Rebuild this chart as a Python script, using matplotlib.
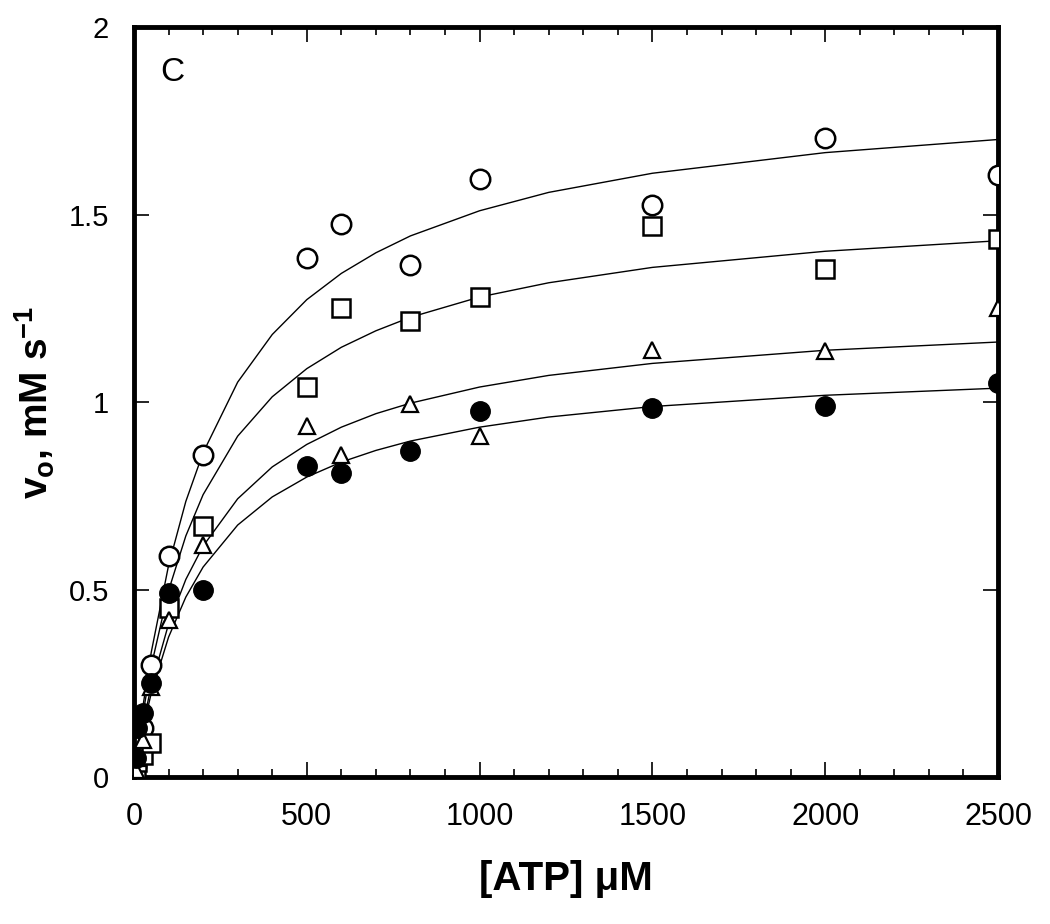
import numpy as np
import matplotlib
matplotlib.use("Agg")
import matplotlib.pyplot as plt
from matplotlib.ticker import MultipleLocator

# ── Data ───────────────────────────────────────────────────
atp = [5, 10, 25, 50, 100, 200, 500, 600, 800, 1000, 1500, 2000, 2500]

v_circle = [0.03, 0.06, 0.13, 0.30, 0.59, 0.86, 1.385, 1.475, 1.365, 1.595, 1.525, 1.705, 1.605]
v_square = [0.02, 0.04, 0.06, 0.09, 0.45, 0.67, 1.04, 1.25, 1.215, 1.28, 1.47, 1.355, 1.435]
v_tri    = [0.02, 0.05, 0.10, 0.24, 0.42, 0.62, 0.935, 0.86, 0.995, 0.91, 1.14, 1.135, 1.25]
v_filled = [0.05, 0.13, 0.17, 0.25, 0.49, 0.50, 0.83, 0.81, 0.87, 0.975, 0.985, 0.99, 1.05]

# fitted hyperbolas, as drawn
atp_fit = [0, 25, 50, 100, 150, 200, 300, 400, 500, 600, 700, 800, 1000, 1200, 1500, 2000, 2500]
fit_circle = [0, 0.183, 0.333, 0.564, 0.735, 0.865, 1.053, 1.180, 1.273, 1.343, 1.398, 1.443,
              1.510, 1.559, 1.610, 1.665, 1.700]
fit_square = [0, 0.164, 0.296, 0.497, 0.643, 0.753, 0.909, 1.014, 1.089, 1.146, 1.190, 1.226,
              1.280, 1.318, 1.359, 1.402, 1.430]
fit_tri    = [0, 0.135, 0.244, 0.408, 0.527, 0.616, 0.742, 0.827, 0.887, 0.933, 0.969, 0.997,
              1.040, 1.071, 1.103, 1.138, 1.160]
fit_filled = [0, 0.124, 0.224, 0.373, 0.480, 0.560, 0.672, 0.747, 0.800, 0.840, 0.871, 0.896,
              0.933, 0.960, 0.988, 1.018, 1.037]

plt.rcParams["font.family"] = ["Liberation Sans", "DejaVu Sans"]

fig = plt.figure(figsize=(10.5, 9.24), dpi=100)
ax = fig.add_axes([0.1276, 0.159, 0.8229, 0.8118])

for fx in (fit_circle, fit_square, fit_tri, fit_filled):
    ax.plot(atp_fit, fx, color="black", lw=1.0, zorder=2)

ax.plot(atp, v_circle, "o", ms=14, mfc="white", mec="black", mew=1.8, ls="none", zorder=3)
ax.plot(atp, v_square, "s", ms=13, mfc="white", mec="black", mew=1.8, ls="none", zorder=3)
ax.plot(atp, v_tri, "^", ms=11, mfc="white", mec="black", mew=1.6, ls="none", zorder=3)
ax.plot(atp, v_filled, "o", ms=14, mfc="black", mec="black", mew=1.0, ls="none", zorder=4)

ax.set_xlim(0, 2500)
ax.set_ylim(0, 2)
ax.xaxis.set_major_locator(MultipleLocator(500))
ax.xaxis.set_minor_locator(MultipleLocator(100))
ax.yaxis.set_major_locator(MultipleLocator(0.5))
ax.yaxis.set_major_formatter(plt.FuncFormatter(lambda v, _: f"{v:g}"))

for s in ax.spines.values():
    s.set_linewidth(3.5)

ax.tick_params(which="both", direction="in", top=True, right=True, color="black")
ax.tick_params(which="major", length=11, width=1.2)
ax.tick_params(which="minor", length=6, width=1.2)
ax.tick_params(axis="y", which="major", labelsize=21, pad=18)
ax.tick_params(axis="x", which="major", labelsize=22, pad=18)

ax.set_xlabel("[ATP] μM", fontsize=29, fontweight="bold", labelpad=20)
ax.set_ylabel(r"v$_\mathregular{o}$, mM s$^\mathregular{-1}$", fontsize=28,
              fontweight="bold", labelpad=8)

ax.text(0.03, 0.96, "C", transform=ax.transAxes, fontsize=24, va="top", ha="left")

fig.savefig("out.png", dpi=100)
